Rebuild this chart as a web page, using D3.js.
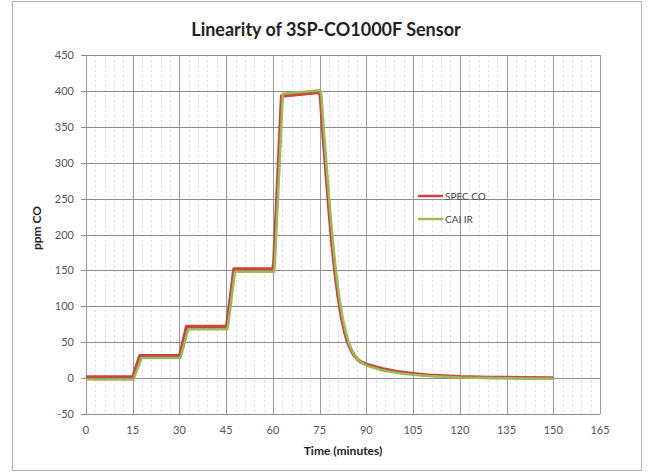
<!doctype html>
<meta charset="utf-8">
<style>
    body { margin: 0; background: #fff; }
    text { font-family: Lato, "Open Sans", sans-serif; }
</style>
<body>
<script src="https://cdn.jsdelivr.net/npm/d3@7"></script>
<script>
    // SPEC CO (red) readings
    const specTime = [0, 15, 15.3, 17.3, 30, 30.3, 32.3, 45, 45.3, 47.5, 60, 60.3, 62.8, 75, 75.3, 76, 77, 78, 79, 80, 81, 82, 83, 84, 85, 86, 87, 88, 90, 95, 100, 105, 110, 120, 130, 140, 150];
    const specCO = [1.5, 1.5, 5, 31, 31, 35, 72, 72, 76, 152, 152, 160, 393, 398, 390, 345, 290, 235, 185, 145, 112, 85, 65, 50, 40, 32, 27, 23, 19, 13, 9, 6, 4, 2, 1, 0.5, 0];
    // CAI IR (green) readings
    const caiTime = [0, 15.3, 15.6, 17.8, 30.3, 30.6, 32.8, 45.3, 45.6, 47.8, 60.3, 60.6, 63.2, 75.2, 75.6, 76.3, 77.3, 78.3, 79.3, 80.3, 81.3, 82.3, 83.3, 84.3, 85.3, 86.3, 87.3, 88.3, 90.3, 95, 100, 105, 110, 120, 130, 140, 150];
    const caiIR = [-2, -2, 2, 28, 28, 32, 68, 68, 72, 148, 148, 156, 396, 401, 392, 348, 292, 237, 188, 147, 113, 86, 66, 50, 39, 31, 26, 22, 17, 11, 7, 4.5, 3, 1, 0, -0.5, -1];

    const xTicks = d3.range(0, 166, 15);
    const yTicks = d3.range(-50, 451, 50);
    const xMinor = d3.range(0, 166, 3);

    const W = 651, H = 472;
    const margin = {top: 55, right: 51, bottom: 58, left: 86};

    const svg = d3.select('body').append('svg')
        .attr('width', W)
        .attr('height', H);

    // chart frame
    svg.append('rect')
        .attr('x', 12.5).attr('y', 1.5)
        .attr('width', 629).attr('height', 469)
        .attr('fill', '#fff').attr('stroke', '#b5b5b5');

    const x = d3.scaleLinear().domain([0, 165]).range([margin.left, W - margin.right]);
    const y = d3.scaleLinear().domain([-50, 450]).range([H - margin.bottom, margin.top]);

    const g = svg.append('g');

    // minor vertical grid
    g.selectAll('.minor')
        .data(xMinor.filter(d => d % 15 !== 0))
        .enter().append('line')
        .attr('x1', d => Math.round(x(d)) + 0.5).attr('x2', d => Math.round(x(d)) + 0.5)
        .attr('y1', y(450)).attr('y2', y(-50))
        .attr('stroke', '#d9d9d9')
        .attr('stroke-dasharray', '2,3');

    // major vertical grid
    g.selectAll('.vmajor')
        .data(xTicks)
        .enter().append('line')
        .attr('x1', d => Math.round(x(d)) + 0.5).attr('x2', d => Math.round(x(d)) + 0.5)
        .attr('y1', y(450)).attr('y2', y(-50))
        .attr('stroke', '#9a9a9a');

    // horizontal grid
    g.selectAll('.hmajor')
        .data(yTicks)
        .enter().append('line')
        .attr('x1', x(0) - 5).attr('x2', x(165))
        .attr('y1', d => Math.round(y(d)) + 0.5).attr('y2', d => Math.round(y(d)) + 0.5)
        .attr('stroke', '#8c8c8c');

    // tick labels
    g.selectAll('.ylab')
        .data(yTicks)
        .enter().append('text')
        .attr('x', x(0) - 12)
        .attr('y', d => y(d) + 4)
        .attr('text-anchor', 'end')
        .attr('font-size', 11)
        .attr('fill', '#555')
        .text(d => d);

    g.selectAll('.xlab')
        .data(xTicks)
        .enter().append('text')
        .attr('x', d => x(d))
        .attr('y', y(-50) + 20)
        .attr('text-anchor', 'middle')
        .attr('font-size', 11)
        .attr('fill', '#555')
        .text(d => d);

    const line = d3.line().x(d => x(d[0])).y(d => y(d[1]));

    svg.append('path')
        .datum(d3.zip(specTime, specCO))
        .attr('d', line)
        .attr('fill', 'none')
        .attr('stroke', '#c9453f')
        .attr('stroke-width', 3.5)
        .attr('stroke-linejoin', 'round');

    svg.append('path')
        .datum(d3.zip(caiTime, caiIR))
        .attr('d', line)
        .attr('fill', 'none')
        .attr('stroke', '#9bbb59')
        .attr('stroke-width', 2.5)
        .attr('stroke-linejoin', 'round');

    // legend
    const legend = [['SPEC CO', '#c9453f'], ['CAI IR', '#9bbb59']];
    const lg = svg.append('g').attr('transform', 'translate(418, 196)');
    legend.forEach((d, i) => {
        lg.append('line')
            .attr('x1', 0).attr('x2', 25)
            .attr('y1', i * 23).attr('y2', i * 23)
            .attr('stroke', d[1]).attr('stroke-width', 2.5);
        lg.append('text')
            .attr('x', 27).attr('y', i * 23 + 3.5)
            .attr('font-size', 10)
            .attr('fill', '#444')
            .text(d[0]);
    });

    // titles
    svg.append('text')
        .attr('x', 326).attr('y', 36)
        .attr('text-anchor', 'middle')
        .attr('font-size', 18).attr('font-weight', 'bold')
        .attr('fill', '#222')
        .text('Linearity of 3SP-CO1000F Sensor');

    svg.append('text')
        .attr('x', (x(0) + x(165)) / 2).attr('y', 455)
        .attr('text-anchor', 'middle')
        .attr('font-size', 12).attr('font-weight', 'bold')
        .attr('fill', '#222')
        .text('Time (minutes)');

    svg.append('text')
        .attr('transform', 'translate(41, 228) rotate(-90)')
        .attr('text-anchor', 'middle')
        .attr('font-size', 12).attr('font-weight', 'bold')
        .attr('fill', '#222')
        .text('ppm CO');
</script>
